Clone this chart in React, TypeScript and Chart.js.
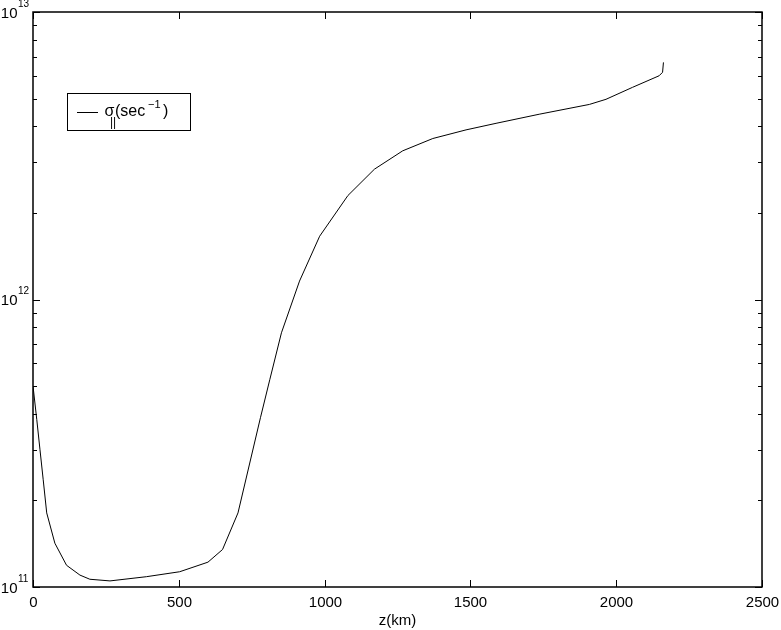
import React, { useEffect, useRef } from "react";
import { Chart, registerables } from "chart.js";

Chart.register(...registerables);

// altitude z (km)
const Z_KM = [0, 13, 24, 35, 47, 75, 115, 161, 195, 264, 389, 503, 600, 650, 703, 780, 812, 852, 914, 983, 1080, 1171, 1268, 1371, 1485, 1588, 1736, 1908, 1965, 2056, 2147, 2159, 2162];
// parallel conductivity sigma_|| (sec^-1)
const SIGMA = [5.0e11, 3.82e11, 3.0e11, 2.36e11, 1.81e11, 1.42e11, 1.19e11, 1.10e11, 1.064e11, 1.05e11, 1.086e11, 1.13e11, 1.22e11, 1.35e11, 1.81e11, 3.88e11, 5.26e11, 7.66e11, 1.159e12, 1.66e12, 2.30e12, 2.84e12, 3.29e12, 3.63e12, 3.89e12, 4.10e12, 4.41e12, 4.77e12, 4.97e12, 5.47e12, 6.0e12, 6.17e12, 6.68e12];

const X_TICKS = [0, 500, 1000, 1500, 2000, 2500];
const Y_EXPONENTS = [11, 12, 13];
const X_TITLE = "z(km)";
// legend label pieces: sigma, subscript, body, superscript, close
const LEGEND_PARTS = ["σ", "||", "(sec", "−1", ")"];

const FONT = "'Liberation Sans', Arial, Helvetica, sans-serif";

const axesPlugin = {
  id: "matlabAxes",
  afterDraw(chart: any) {
    const ctx = chart.ctx as CanvasRenderingContext2D;
    const { left, right, top, bottom } = chart.chartArea;
    const xs = chart.scales.x;
    const ys = chart.scales.y;
    ctx.save();
    ctx.strokeStyle = "#000";
    ctx.fillStyle = "#000";
    ctx.lineWidth = 1.5;
    ctx.strokeRect(left, top, right - left, bottom - top);

    ctx.lineWidth = 1;
    // x ticks
    ctx.font = `15px ${FONT}`;
    ctx.textAlign = "center";
    ctx.textBaseline = "alphabetic";
    X_TICKS.forEach((v) => {
      const px = Math.round(xs.getPixelForValue(v)) + 0.5;
      ctx.beginPath();
      ctx.moveTo(px, bottom);
      ctx.lineTo(px, bottom - 7);
      ctx.moveTo(px, top);
      ctx.lineTo(px, top + 7);
      ctx.stroke();
      ctx.fillText(String(v), px, 607);
    });
    ctx.fillText(X_TITLE, (left + right) / 2, 625);

    // y ticks (major + minor)
    Y_EXPONENTS.forEach((e, i) => {
      const py = ys.getPixelForValue(Math.pow(10, e));
      const pyr = Math.round(py) + 0.5;
      ctx.beginPath();
      ctx.moveTo(left, pyr);
      ctx.lineTo(left + 7, pyr);
      ctx.moveTo(right, pyr);
      ctx.lineTo(right - 7, pyr);
      ctx.stroke();
      ctx.font = `15px ${FONT}`;
      ctx.textAlign = "right";
      ctx.fillText("10", 17.5, py + 5.5);
      ctx.font = `10px ${FONT}`;
      ctx.textAlign = "left";
      ctx.fillText(String(e), 18, py - 5.5);
      if (i < Y_EXPONENTS.length - 1) {
        for (let m = 2; m <= 9; m++) {
          const my = Math.round(ys.getPixelForValue(m * Math.pow(10, e))) + 0.5;
          ctx.beginPath();
          ctx.moveTo(left, my);
          ctx.lineTo(left + 4, my);
          ctx.moveTo(right, my);
          ctx.lineTo(right - 4, my);
          ctx.stroke();
        }
      }
    });

    // legend
    ctx.fillStyle = "#fff";
    ctx.fillRect(67.5, 93.5, 123, 37);
    ctx.strokeStyle = "#000";
    ctx.lineWidth = 1;
    ctx.strokeRect(67.5, 93.5, 123, 37);
    ctx.beginPath();
    ctx.moveTo(77, 112.5);
    ctx.lineTo(98, 112.5);
    ctx.stroke();
    ctx.fillStyle = "#000";
    ctx.textAlign = "left";
    ctx.font = `16px ${FONT}`;
    ctx.fillText(LEGEND_PARTS[0], 104.5, 116);
    ctx.font = `12px ${FONT}`;
    ctx.fillText(LEGEND_PARTS[1], 110, 125.5);
    ctx.font = `16px ${FONT}`;
    ctx.fillText(LEGEND_PARTS[2], 115, 116);
    ctx.font = `11px ${FONT}`;
    ctx.fillText(LEGEND_PARTS[3], 148, 108);
    ctx.font = `16px ${FONT}`;
    ctx.fillText(LEGEND_PARTS[4], 163, 116);
    ctx.restore();
  },
};

export default function App() {
  const ref = useRef<HTMLCanvasElement | null>(null);
  useEffect(() => {
    if (!ref.current) return;
    const data = Z_KM.map((z, i) => ({ x: z, y: SIGMA[i] }));
    const chart = new Chart(ref.current, {
      type: "line",
      data: {
        datasets: [
          {
            label: "σ||(sec-1)",
            data,
            borderColor: "#000",
            borderWidth: 1,
            pointRadius: 0,
            tension: 0,
            fill: false,
          },
        ],
      },
      options: {
        responsive: false,
        animation: false,
        layout: { padding: { left: 0, right: 19, top: 12, bottom: 0 } },
        plugins: { legend: { display: false }, tooltip: { enabled: false } },
        scales: {
          x: {
            type: "linear",
            min: 0,
            max: 2500,
            ticks: { display: false },
            grid: { display: false },
            border: { display: false },
            afterFit: (s: any) => {
              s.height = 43;
            },
          },
          y: {
            type: "logarithmic",
            min: 1e11,
            max: 1e13,
            ticks: { display: false },
            grid: { display: false },
            border: { display: false },
            afterFit: (s: any) => {
              s.width = 33;
            },
          },
        },
      },
      plugins: [axesPlugin],
    });
    return () => chart.destroy();
  }, []);
  return (
    <div style={{ position: "fixed", left: 0, top: 0, width: 781, height: 630, background: "#fff" }}>
      <canvas ref={ref} width={781} height={630} style={{ display: "block" }} />
    </div>
  );
}
